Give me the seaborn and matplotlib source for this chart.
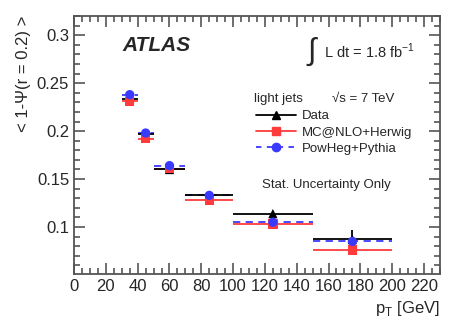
import numpy as np
import pandas as pd
import seaborn as sns
import matplotlib
matplotlib.use("Agg")
import matplotlib.pyplot as plt
from matplotlib.lines import Line2D
from matplotlib.ticker import MultipleLocator, FuncFormatter

# --- Data -------------------------------------------------------------------
bin_lo   = [30, 40, 50, 70, 100, 150]
bin_hi   = [40, 50, 70, 100, 150, 200]
data     = [0.234, 0.197, 0.160, 0.133, 0.114, 0.087]
data_err = [0.002, 0.002, 0.002, 0.002, 0.003, 0.010]
mcnlo    = [0.231, 0.192, 0.161, 0.128, 0.103, 0.076]
powheg   = [0.238, 0.198, 0.164, 0.133, 0.105, 0.085]

centers = [(lo + hi) / 2 for lo, hi in zip(bin_lo, bin_hi)]
halfw   = [(hi - lo) / 2 for lo, hi in zip(bin_lo, bin_hi)]

df = pd.DataFrame({
    "pt": centers * 3,
    "val": data + mcnlo + powheg,
    "sample": ["Data"] * 6 + ["MC@NLO+Herwig"] * 6 + ["PowHeg+Pythia"] * 6,
})

sns.set_theme(style="ticks")
plt.rcParams["font.family"] = ["Liberation Sans", "DejaVu Sans"]

RED  = "#ff3b3b"
BLUE = "#3a3aff"

fig = plt.figure(figsize=(4.63, 3.27), dpi=100)
ax = fig.add_axes([0.160, 0.162, 0.790, 0.789])

# bin-width bars
ax.errorbar(centers, mcnlo, xerr=halfw, fmt="none", ecolor=RED, elinewidth=1.3, zorder=2)
ax.errorbar(centers, powheg, xerr=halfw, fmt="none", ecolor=BLUE, elinewidth=1.3,
            zorder=3)[-1][0].set_linestyle((0, (4, 3)))
ax.errorbar(centers, data, xerr=halfw, yerr=data_err, fmt="none", ecolor="black",
            elinewidth=1.3, zorder=4)

sns.scatterplot(data=df, x="pt", y="val", hue="sample", style="sample",
                palette={"Data": "black", "MC@NLO+Herwig": RED, "PowHeg+Pythia": BLUE},
                markers={"Data": "^", "MC@NLO+Herwig": "s", "PowHeg+Pythia": "o"},
                hue_order=["MC@NLO+Herwig", "PowHeg+Pythia", "Data"],
                s=45, edgecolor="none", legend=False, ax=ax, zorder=5)

ax.set_xlim(0, 230)
ax.set_ylim(0.051, 0.32)
ax.xaxis.set_major_locator(MultipleLocator(20))
ax.xaxis.set_minor_locator(MultipleLocator(5))
ax.yaxis.set_major_locator(MultipleLocator(0.05))
ax.yaxis.set_minor_locator(MultipleLocator(0.01))
ax.yaxis.set_major_formatter(FuncFormatter(lambda v, p: f"{v:g}"))
ax.tick_params(which="both", direction="in", top=True, right=True, labelsize=12,
               color="#555555", width=1.2)
ax.tick_params(which="major", length=8)
ax.tick_params(which="minor", length=4.5)
for s in ax.spines.values():
    s.set_color("#555555")
    s.set_linewidth(1.3)

ax.set_xlabel("p$_{\\mathregular{T}}$ [GeV]", fontsize=12, loc="right")
ax.set_ylabel("< 1-Ψ(r = 0.2) >", fontsize=12, loc="top")

ax.text(30.5, 0.2895, "ATLAS", fontsize=15, fontweight="bold", fontstyle="italic",
        va="center")
ax.text(147, 0.283, "∫", fontsize=22, va="center")
ax.text(157, 0.283, "L dt = 1.8 fb$^{\\mathregular{-1}}$", fontsize=10.5, va="center")
ax.text(113, 0.234, "light jets", fontsize=9.5, va="center")
ax.text(162, 0.234, "√s = 7 TeV", fontsize=9.5, va="center")
ax.text(118, 0.144, "Stat. Uncertainty Only", fontsize=9.5, va="center")

handles = [
    Line2D([], [], color="black", marker="^", markersize=6, lw=1.3),
    Line2D([], [], color=RED, marker="s", markersize=6, lw=1.3),
    Line2D([], [], color=BLUE, marker="o", markersize=6, lw=1.3, ls=(0, (3, 3))),
]
ax.legend(handles, ["Data", "MC@NLO+Herwig", "PowHeg+Pythia"], frameon=False,
          fontsize=9.5, handlelength=3.0, handletextpad=0.45, labelspacing=0.3,
          loc="upper left", bbox_to_anchor=(0.498, 0.635), borderaxespad=0,
          borderpad=0)

fig.savefig("out.png", dpi=100)
